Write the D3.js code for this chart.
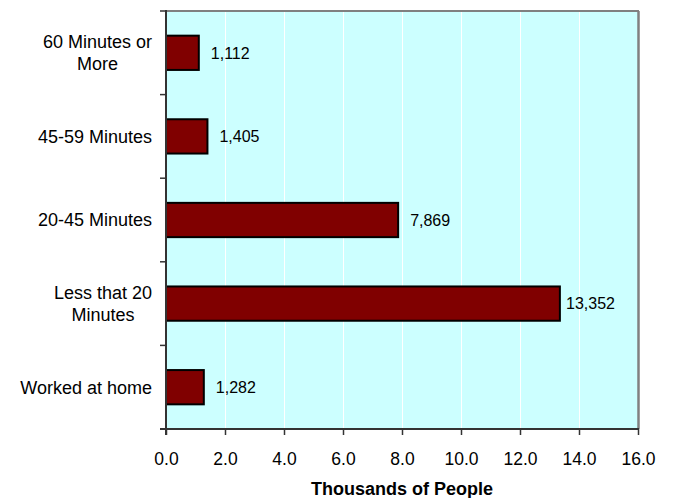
<!DOCTYPE html>
<html>
<head>
<meta charset="utf-8">
<script src="https://cdn.jsdelivr.net/npm/d3@7/dist/d3.min.js"></script>
<style>
  html, body { margin: 0; padding: 0; background: #ffffff; }
  svg { display: block; font-family: "Liberation Sans", Arial, sans-serif; }
</style>
</head>
<body>
<svg id="chart" width="675" height="498"></svg>
<script>
// ---- data ----
const categories = ["60 Minutes or More", "45-59 Minutes", "20-45 Minutes", "Less that 20 Minutes", "Worked at home"];
const values = [1112, 1405, 7869, 13352, 1282];           // thousands of people
const xTicks = [0, 2, 4, 6, 8, 10, 12, 14, 16];            // tick values (thousands)
const xTitle = "Thousands of People";

// ---- layout ----
const W = 675, H = 498;
const margin = { left: 166, top: 11, right: 37, bottom: 69 };
const pw = W - margin.left - margin.right;   // 472
const ph = H - margin.top - margin.bottom;   // 418

const svg = d3.select("#chart");
const g = svg.append("g").attr("transform", `translate(${margin.left},${margin.top})`);

const x = d3.scaleLinear().domain([0, 16]).range([0, pw]);
const y = d3.scaleBand().domain(categories).range([0, ph]).paddingInner(0.59).paddingOuter(0.295);

// plot background
g.append("rect").attr("x", 0).attr("y", 0).attr("width", pw).attr("height", ph).attr("fill", "#ccffff");

// gridlines
g.selectAll("line.grid").data(xTicks.filter(t => t > 0 && t < 16)).enter().append("line")
  .attr("class", "grid")
  .attr("x1", d => Math.round(x(d)) + 0.5).attr("x2", d => Math.round(x(d)) + 0.5)
  .attr("y1", 0).attr("y2", ph)
  .attr("stroke", "#ffffff").attr("stroke-width", 1);

// top & right border (gray)
g.append("line").attr("x1", 0).attr("x2", pw + 1).attr("y1", 0).attr("y2", 0)
  .attr("stroke", "#808080").attr("stroke-width", 2);
g.append("line").attr("x1", pw + 0.5).attr("x2", pw + 0.5).attr("y1", 0).attr("y2", ph)
  .attr("stroke", "#808080").attr("stroke-width", 2.5);

// bars
g.selectAll("rect.bar").data(values).enter().append("rect")
  .attr("class", "bar")
  .attr("x", 0)
  .attr("y", (d, i) => y(categories[i]))
  .attr("width", d => x(d / 1000))
  .attr("height", y.bandwidth())
  .attr("fill", "#800000")
  .attr("stroke", "#000000")
  .attr("stroke-width", 2);

// value labels
const fmt = d3.format(",");
g.selectAll("text.val").data(values).enter().append("text")
  .attr("class", "val")
  .attr("x", d => Math.min(x(d / 1000) + 12, pw - 72))
  .attr("y", (d, i) => y(categories[i]) + y.bandwidth() / 2)
  .attr("dy", "0.36em")
  .attr("font-size", "16px")
  .attr("fill", "#000")
  .text(d => fmt(d));

// x axis
const xAxis = d3.axisBottom(x).tickValues(xTicks).tickFormat(d3.format(".1f")).tickSize(6).tickSizeOuter(0);
const gx = g.append("g").attr("transform", `translate(0,${ph})`).call(xAxis);
gx.select(".domain").attr("stroke", "#333").attr("stroke-width", 2).attr("d", `M-6,0H${pw + 1}`);
gx.selectAll(".tick line").attr("stroke", "#333").attr("stroke-width", 1.5);
gx.selectAll(".tick text").attr("font-size", "17.5px").attr("font-family", "Liberation Sans, Arial, sans-serif")
  .attr("fill", "#000").attr("y", 24).attr("dy", "0.71em");

// y axis line and ticks at category boundaries
g.append("line").attr("x1", 0).attr("x2", 0).attr("y1", -1).attr("y2", ph + 6)
  .attr("stroke", "#333").attr("stroke-width", 2);
const bounds = d3.range(categories.length + 1).map(i => i * y.step());
g.selectAll("line.ytick").data(bounds).enter().append("line")
  .attr("class", "ytick")
  .attr("x1", -6).attr("x2", 0)
  .attr("y1", d => d).attr("y2", d => d)
  .attr("stroke", "#333").attr("stroke-width", 1.5);

// category labels (wrapped, lines centered, block right-aligned)
const maxW = 140, lineH = 22, labelRight = -14;
categories.forEach(cat => {
  const t = g.append("text").attr("font-size", "18px").attr("fill", "#000").attr("text-anchor", "middle");
  const words = cat.split(" ");
  const lines = [];
  let cur = [];
  const probe = g.append("text").attr("font-size", "18px");
  words.forEach(w => {
    const trial = cur.concat([w]).join(" ");
    probe.text(trial);
    if (probe.node().getComputedTextLength() > maxW && cur.length) {
      lines.push(cur.join(" "));
      cur = [w];
    } else cur.push(w);
  });
  lines.push(cur.join(" "));
  let widest = 0;
  lines.forEach(l => { probe.text(l); widest = Math.max(widest, probe.node().getComputedTextLength()); });
  probe.remove();
  const cx = labelRight - widest / 2;
  const cy = y(cat) + y.bandwidth() / 2;
  lines.forEach((l, i) => {
    t.append("tspan").attr("x", cx)
      .attr("y", cy + (i - (lines.length - 1) / 2) * lineH)
      .attr("dy", "0.35em").text(l);
  });
});

// x axis title
svg.append("text")
  .attr("x", margin.left + pw / 2).attr("y", 495)
  .attr("text-anchor", "middle").attr("font-size", "18px").attr("font-weight", "bold")
  .text(xTitle);
</script>
</body>
</html>
